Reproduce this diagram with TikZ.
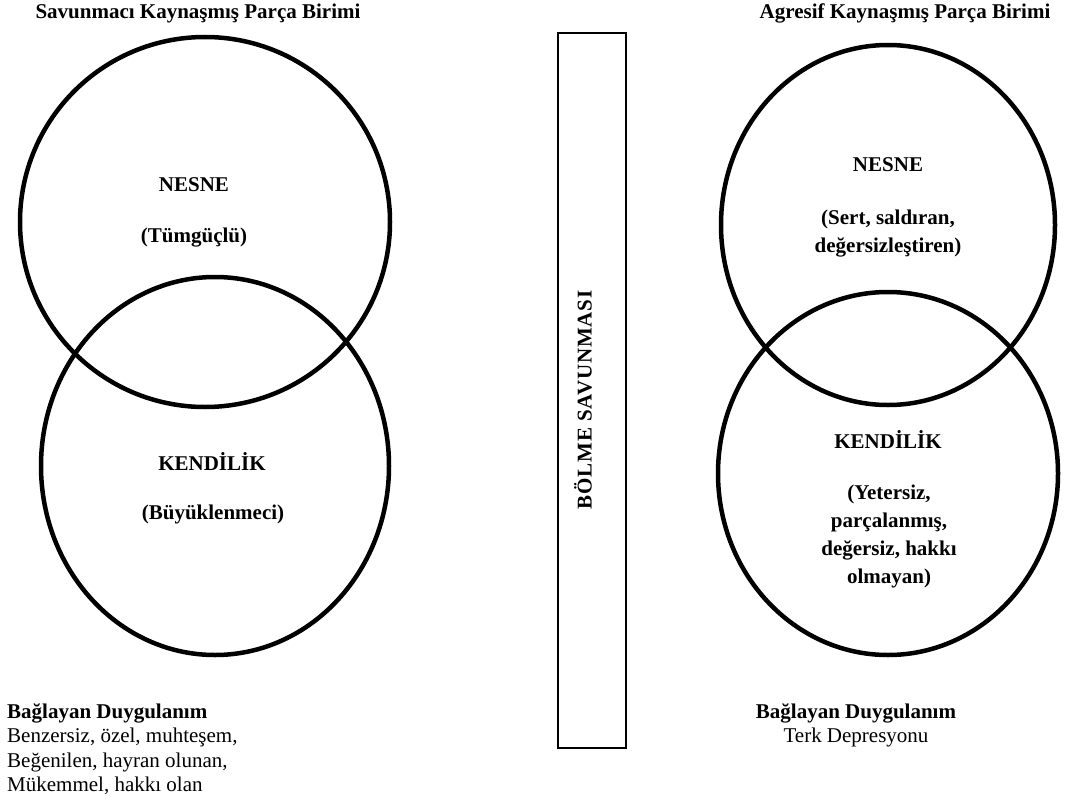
\documentclass[tikz,border=0pt]{standalone}
\usepackage{fontspec}
\setmainfont{Liberation Serif}
\usetikzlibrary{shapes.geometric}
\begin{document}
\begin{tikzpicture}[x=1pt,y=-1pt,
  ring/.style={draw, ellipse, line width=4.5pt, inner sep=0pt},
  lbl/.style={font=\fontsize{21}{24}\selectfont\bfseries, align=center, inner sep=0pt},
  body/.style={font=\fontsize{21}{24.5}\selectfont, inner sep=0pt},
  divider/.style={draw, line width=1.4pt, minimum width=68pt, minimum height=715pt, inner sep=0pt}
]
\useasboundingbox (0,0) rectangle (1065,800);

% titles
\node[lbl] (tl) at (198,13) {Savunmacı Kaynaşmış Parça Birimi};
\node[lbl] (tr) at (905,13) {Agresif Kaynaşmış Parça Birimi};

% divider
\node[divider] (div) at (592,390.5) {};
\node[lbl, rotate=90] (divt) at (583,400) {\addfontfeatures{LetterSpace=4}BÖLME SAVUNMASI};

% left circles
\node[ring, minimum width=370pt, minimum height=370pt] (lo) at (205,222) {};
\node[ring, minimum width=348pt, minimum height=378pt] (ls) at (215,466) {};
\node[lbl] (lo1) at (194,185) {NESNE};
\node[lbl] (lo2) at (194,238) {(Tümgüçlü)};
\node[lbl] (ls1) at (212,462) {KENDİLİK};
\node[lbl] (ls2) at (213,514) {(Büyüklenmeci)};

% right circles
\node[ring, minimum width=334pt, minimum height=360pt] (ro) at (888,225) {};
\node[ring, minimum width=340pt, minimum height=363pt] (rs) at (888,473.5) {};
\node[lbl] (ro1) at (888,165) {NESNE};
\node[lbl] (ro2) at (888,234) {(Sert, saldıran,\\[4pt]değersizleştiren)};
\node[lbl] (rs1) at (888,440) {KENDİLİK};
\node[lbl] (rs2) at (889,536) {(Yetersiz,\\[4pt]parçalanmış,\\[4pt]değersiz, hakkı\\[4pt]olmayan)};

% bottom texts
\node[body, anchor=north west, align=left] (lb) at (7,703) {\textbf{Bağlayan Duygulanım}\\Benzersiz, özel, muhteşem,\\Beğenilen, hayran olunan,\\Mükemmel, hakkı olan};
\node[body, anchor=north, align=center] (rb) at (856,703) {\textbf{Bağlayan Duygulanım}\\Terk Depresyonu};
\end{tikzpicture}
\end{document}
